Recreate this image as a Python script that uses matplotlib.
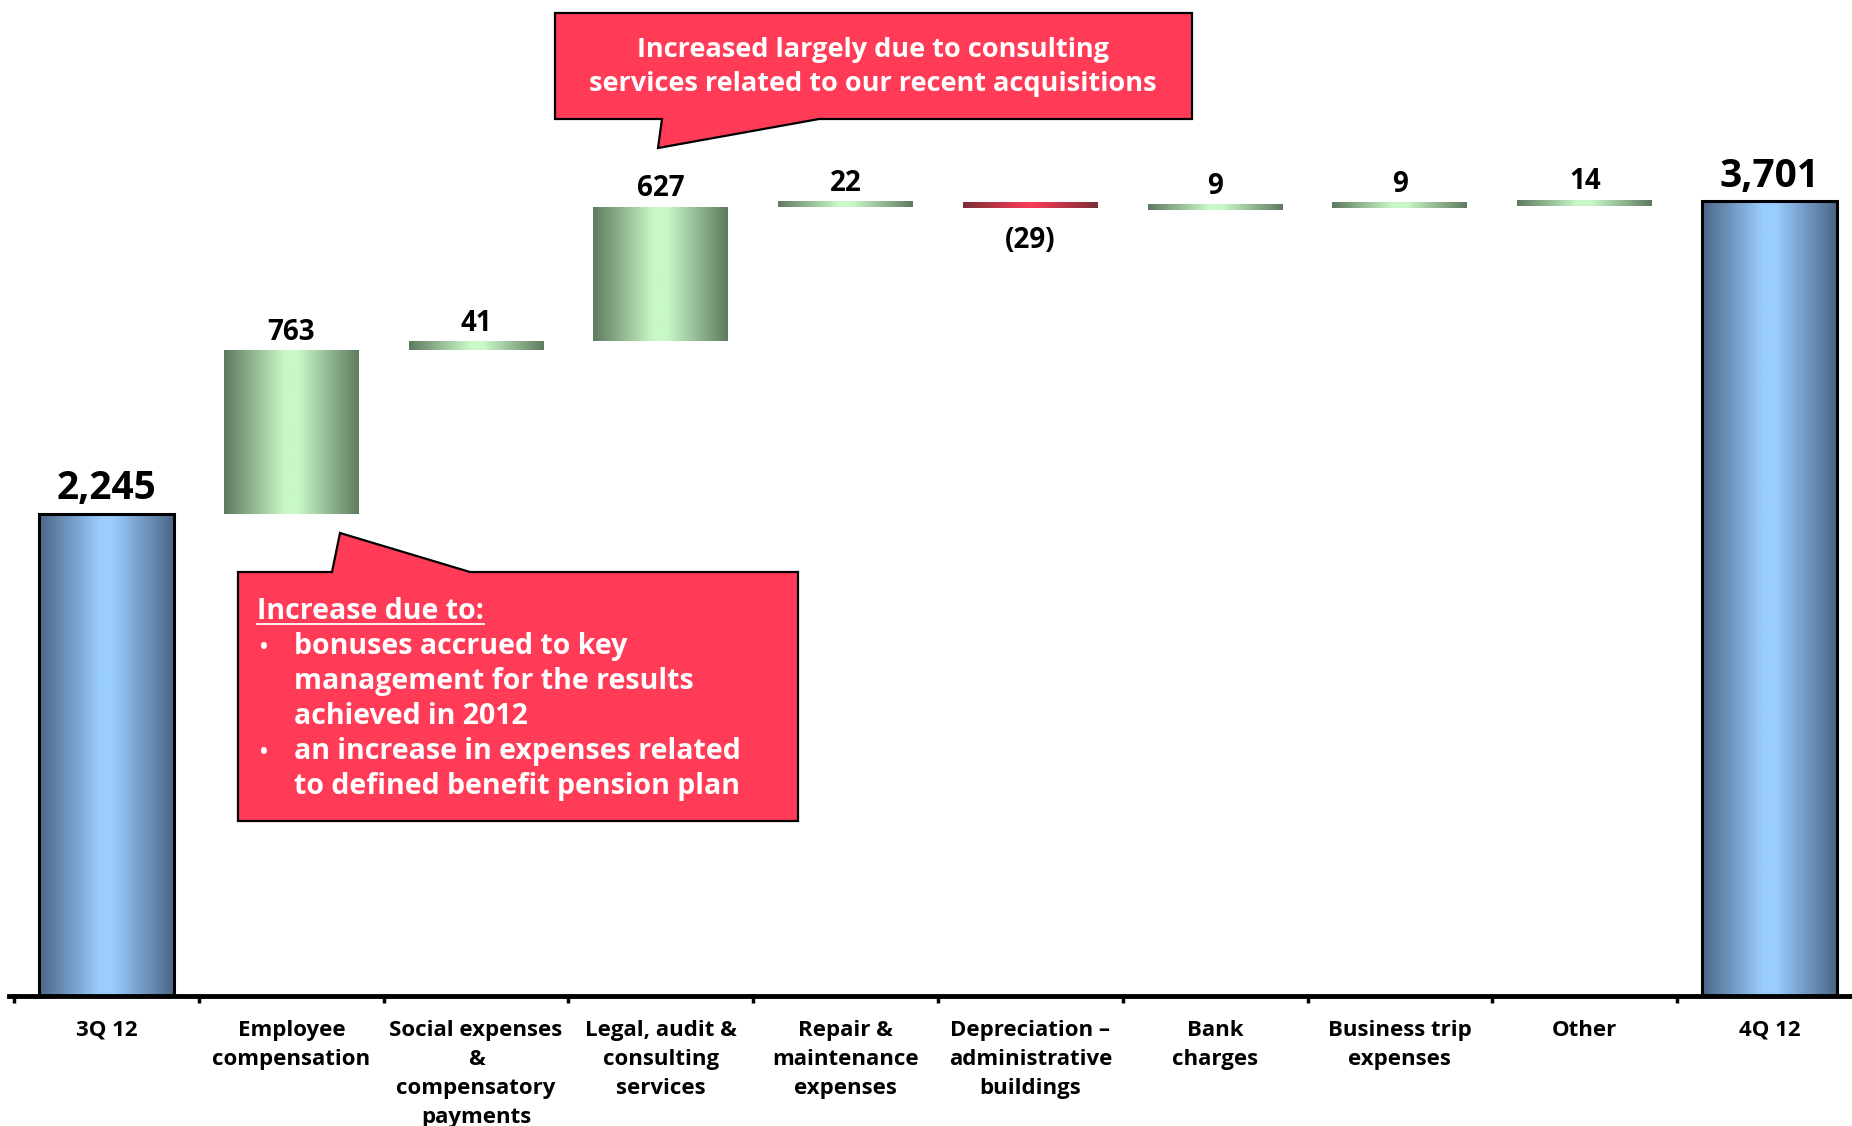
import matplotlib.pyplot as plt
import numpy as np
from matplotlib.colors import LinearSegmentedColormap
from matplotlib.patches import Polygon, Rectangle
from matplotlib.lines import Line2D

categories = [
    "3Q 12",
    "Employee\ncompensation",
    "Social expenses\n&\ncompensatory\npayments",
    "Legal, audit &\nconsulting\nservices",
    "Repair &\nmaintenance\nexpenses",
    "Depreciation \u2013\nadministrative\nbuildings",
    "Bank\ncharges",
    "Business trip\nexpenses",
    "Other",
    "4Q 12",
]
start_total = 2245
changes = [763, 41, 627, 22, -29, 9, 9, 14]
end_total = 3701
value_labels = ["2,245", "763", "41", "627", "22", "(29)", "9", "9", "14", "3,701"]

note_top = "Increased largely due to consulting\nservices related to our recent acquisitions"
note_head = "Increase due to:"
note_lines = [
    "bonuses accrued to key",
    "management for the results",
    "achieved in 2012",
    "an increase in expenses related",
    "to defined benefit pension plan",
]
note_bullets = [True, False, False, True, False]

FONT = "Open Sans"
W, H = 1852, 1126

blue = LinearSegmentedColormap.from_list("b", [(0, "#4b6686"), (0.45, "#99ccff"), (0.55, "#99ccff"), (1, "#4b6686")])
green = LinearSegmentedColormap.from_list("g", [(0, "#5f7a5f"), (0.45, "#c8f8c8"), (0.55, "#c8f8c8"), (1, "#5f7a5f")])
red = LinearSegmentedColormap.from_list("r", [(0, "#7a3038"), (0.5, "#ff3b57"), (1, "#7a3038")])
callout_red = "#ff3b57"

fig = plt.figure(figsize=(W / 100, H / 100), dpi=100)
ax = fig.add_axes([9 / W, 130 / H, (W - 9) / W, 996 / H])

grad = np.linspace(0, 1, 256).reshape(1, -1)
width = 0.73
min_h = 28


def gradient_bar(x, lo, hi, cmap, edge=False):
    rect = Rectangle((x - width / 2, lo), width, hi - lo, facecolor="none",
                     edgecolor="black" if edge else "none", linewidth=2.2, zorder=3)
    ax.add_patch(rect)
    im = ax.imshow(grad, cmap=cmap, aspect="auto", extent=[x - width / 2, x + width / 2, lo, hi], zorder=2)
    im.set_clip_path(rect)


# totals
gradient_bar(0, 0, start_total, blue, edge=True)
gradient_bar(len(categories) - 1, 0, end_total, blue, edge=True)
ax.annotate(value_labels[0], (0, start_total), xytext=(0, 4), textcoords="offset points",
            ha="center", va="bottom", fontsize=28, fontweight="bold", family=FONT)
ax.annotate(value_labels[-1], (len(categories) - 1, end_total), xytext=(0, 4), textcoords="offset points",
            ha="center", va="bottom", fontsize=28, fontweight="bold", family=FONT)

# deltas
level = start_total
for i, d in enumerate(changes, start=1):
    lo, hi = min(level, level + d), max(level, level + d)
    if hi - lo < min_h:
        mid = (lo + hi) / 2
        lo, hi = mid - min_h / 2, mid + min_h / 2
    gradient_bar(i, lo, hi, green if d >= 0 else red)
    if d >= 0:
        ax.annotate(value_labels[i], (i, hi), xytext=(0, 2.5), textcoords="offset points",
                    ha="center", va="bottom", fontsize=20, fontweight="bold", family=FONT)
    else:
        ax.annotate(value_labels[i], (i, lo), xytext=(0, -13), textcoords="offset points",
                    ha="center", va="top", fontsize=20, fontweight="bold", family=FONT)
    level += d

ax.set_xlim(-0.528, 9.447)
ax.set_ylim(0, 4639)
for s in ["top", "right", "left"]:
    ax.spines[s].set_visible(False)
ax.spines["bottom"].set_linewidth(3.5)
ax.set_yticks([])
ax.set_xticks(np.arange(-0.5, 9, 1))
ax.set_xticklabels([])
ax.tick_params(axis="x", which="major", length=5, width=2.5, direction="out")
ax.set_xticks(np.arange(len(categories)), minor=True)
ax.set_xticklabels(categories, minor=True, fontsize=16, fontweight="bold", family=FONT, linespacing=1.5)
ax.tick_params(axis="x", which="minor", length=0, pad=17)


def fp(x, y):
    return x / W, 1 - y / H


# callout boxes (pixel geometry of the reference)
top_poly = [(555, 13), (1192, 13), (1192, 119), (819, 119), (658, 148), (662, 119), (555, 119)]
low_poly = [(238, 572), (332, 572), (340, 533), (470, 572), (798, 572), (798, 821), (238, 821)]
for poly in (top_poly, low_poly):
    fig.patches.append(Polygon([fp(*p) for p in poly], closed=True, transform=fig.transFigure,
                               facecolor=callout_red, edgecolor="black", linewidth=1.6, zorder=5))

fig.text(*fp(873, 67), note_top, ha="center", va="center", color="white", fontsize=19.5,
         fontweight="bold", family=FONT, linespacing=1.4, zorder=6)

head = fig.text(*fp(257, 619), note_head, ha="left", va="baseline", color="white", fontsize=20.5,
                fontweight="bold", family=FONT, zorder=6)
for k, (line, bul) in enumerate(zip(note_lines, note_bullets)):
    y = 654 + k * 35
    if bul:
        fig.text(*fp(260, y), "\u2022", ha="left", va="baseline", color="white", fontsize=15,
                 fontweight="bold", family=FONT, zorder=6)
    fig.text(*fp(294, y), line, ha="left", va="baseline", color="white", fontsize=20.5,
             fontweight="bold", family=FONT, zorder=6)

fig.canvas.draw()
bb = head.get_window_extent()
uy = 1 - 624 / H
fig.lines.append(Line2D([bb.x0 / W, bb.x1 / W], [uy, uy], transform=fig.transFigure,
                        color="white", linewidth=1.3, zorder=6))

fig.savefig("out.png", dpi=100)
